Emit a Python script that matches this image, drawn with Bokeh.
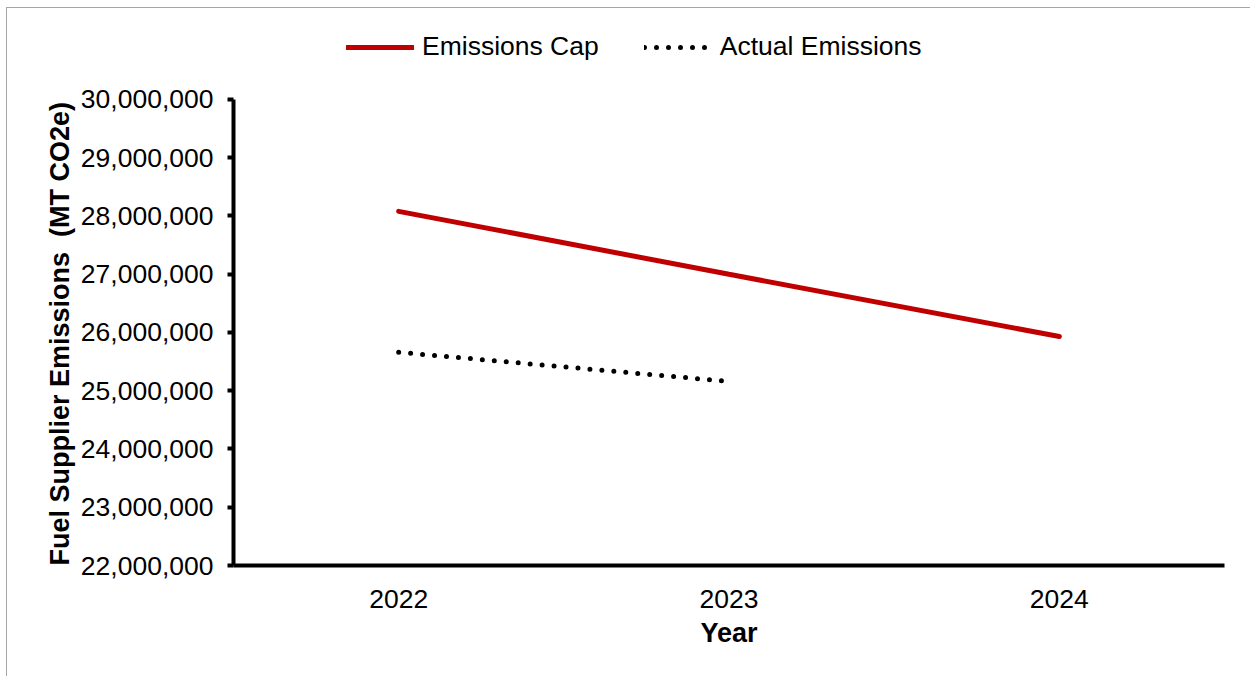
from bokeh.plotting import figure
from bokeh.models import (FactorRange, Range1d, FixedTicker, NumeralTickFormatter,
                          Legend, LegendItem, ColumnDataSource, Title)
from bokeh.embed import file_html
from bokeh.resources import INLINE

years = ["2022", "2023", "2024"]
cap_values = [28080000, 27000000, 25930000]
actual_years = ["2022", "2023"]
actual_values = [25660000, 25160000]
y_ticks = [22000000, 23000000, 24000000, 25000000, 26000000, 27000000, 28000000, 29000000, 30000000]
y_axis_bounds = (22000000, 30000000)

FONT = "Liberation Sans"

# frame extends above the axis top so that the legend fits inside it
p = figure(width=1244, height=669, x_range=FactorRange(*years, range_padding=0),
           y_range=Range1d(22000000, 31562000), output_backend="svg",
           toolbar_location=None, min_border_left=226, min_border_right=27,
           min_border_top=0, min_border_bottom=112)
p.styles = {"margin-left": "6px", "margin-top": "7px",
            "border-left": "1px solid #a6a6a6", "border-top": "1px solid #a6a6a6"}
p.outline_line_color = None
p.xgrid.visible = False
p.ygrid.visible = False
p.background_fill_color = "white"
p.border_fill_color = "white"

cap_src = ColumnDataSource(dict(x=years, y=cap_values))
act_src = ColumnDataSource(dict(x=actual_years, y=actual_values))
r_cap = p.line("x", "y", source=cap_src, line_color="#C00000", line_width=5, line_cap="round")
r_act = p.line("x", "y", source=act_src, line_color="black", line_width=5, line_cap="round",
               line_dash="0 12")

# y axis
ya = p.yaxis[0]
ya.bounds = y_axis_bounds
ya.ticker = FixedTicker(ticks=y_ticks)
ya.formatter = NumeralTickFormatter(format="0,0")
ya.axis_line_width = 4
ya.axis_line_color = "black"
ya.major_tick_line_width = 4
ya.major_tick_out = 6
ya.major_tick_in = 0
ya.minor_tick_line_color = None
ya.major_label_text_font = FONT
ya.major_label_text_font_size = "26.5px"
ya.major_label_text_color = "black"
ya.major_label_standoff = 14

ytitle = Title(text="Fuel Supplier Emissions \u00a0(MT CO2e)", align="left", offset=0,
               text_font=FONT, text_font_size="27px", text_font_style="bold",
               text_color="black", standoff=5)
p.add_layout(ytitle, "left")

# x axis
xa = p.xaxis[0]
xa.axis_line_width = 4
xa.axis_line_color = "black"
xa.major_tick_line_color = None
xa.major_tick_out = 0
xa.major_tick_in = 0
xa.minor_tick_line_color = None
xa.major_label_text_font = FONT
xa.major_label_text_font_size = "26.5px"
xa.major_label_text_color = "black"
xa.major_label_standoff = 24
xa.axis_label = "Year"
xa.axis_label_text_font = FONT
xa.axis_label_text_font_size = "27px"
xa.axis_label_text_font_style = "bold"
xa.axis_label_text_color = "black"
xa.axis_label_standoff = 7

legend = Legend(items=[LegendItem(label="Emissions Cap", renderers=[r_cap]),
                       LegendItem(label="Actual Emissions", renderers=[r_act])],
                orientation="horizontal", location=(113, 503),
                label_text_font=FONT, label_text_font_size="26.5px", label_text_color="black",
                glyph_width=68, glyph_height=20, label_standoff=8, spacing=45,
                border_line_color=None, background_fill_alpha=0, margin=0, padding=0)
p.add_layout(legend, "center")

open("out.html", "w").write(file_html(p, INLINE))
